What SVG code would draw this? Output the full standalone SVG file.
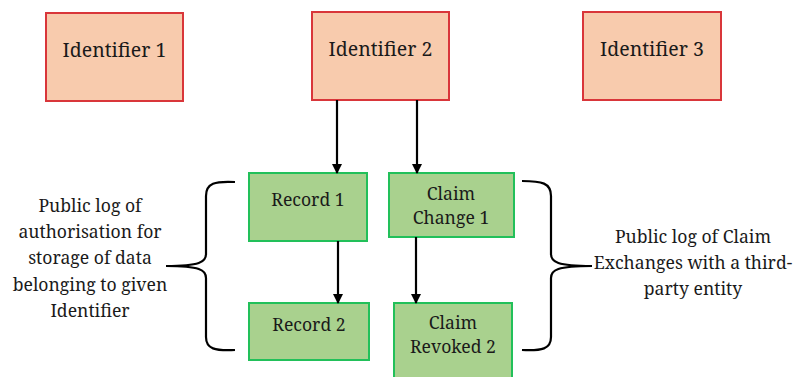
<svg xmlns="http://www.w3.org/2000/svg" width="796" height="377" viewBox="0 0 796 377">
  <defs>
    <style>
      .id rect { fill: #F8CBAD; stroke: #D9363A; stroke-width: 2; }
      .rec rect { fill: #A9D18E; stroke: #22C05A; stroke-width: 2; }
      text { fill: #1a1a1a; text-anchor: middle; font-family: "Noto Serif", "DejaVu Serif", serif; }
      .id text { font-size: 19.5px; }
      .rec text, .note text { font-size: 17.6px; }
      .conn line { stroke: #000; stroke-width: 2.2; marker-end: url(#arrow); }
      .brace { fill: none; stroke: #000; stroke-width: 2.2; }
    </style>
    <marker id="arrow" markerWidth="10" markerHeight="10" refX="9" refY="5" orient="auto" markerUnits="userSpaceOnUse">
      <path d="M0,0 L10,5 L0,10 z" fill="#000"/>
    </marker>
  </defs>

  <rect width="796" height="377" fill="#fff"/>

  <!-- identifiers -->
  <g id="identifier1" class="id">
    <rect x="46" y="13" width="137" height="88"/>
    <text x="114.5" y="57">Identifier 1</text>
  </g>
  <g id="identifier2" class="id">
    <rect x="312" y="12" width="137" height="88"/>
    <text x="380.5" y="56">Identifier 2</text>
  </g>
  <g id="identifier3" class="id">
    <rect x="583" y="12" width="138" height="88"/>
    <text x="652" y="56">Identifier 3</text>
  </g>

  <!-- log entries -->
  <g id="record1" class="rec">
    <rect x="249" y="173" width="118" height="68"/>
    <text x="308" y="206">Record 1</text>
  </g>
  <g id="record2" class="rec">
    <rect x="249" y="303" width="120" height="57"/>
    <text x="309" y="331">Record 2</text>
  </g>
  <g id="claimChange1" class="rec">
    <rect x="389" y="173" width="125" height="64"/>
    <text x="451" y="200">Claim</text>
    <text x="451" y="224">Change 1</text>
  </g>
  <g id="claimRevoked2" class="rec">
    <rect x="394" y="303" width="118" height="80"/>
    <text x="453" y="329">Claim</text>
    <text x="453" y="353">Revoked 2</text>
  </g>

  <!-- arrows -->
  <g id="connectors" class="conn">
    <line x1="337" y1="100" x2="337" y2="173"/>
    <line x1="417" y1="100" x2="417" y2="173"/>
    <line x1="338" y1="241" x2="338" y2="303"/>
    <line x1="416" y1="237" x2="416" y2="303"/>
  </g>

  <!-- braces -->
  <g id="leftBrace">
    <path class="brace" d="M235,182 C215,181 206,183 206,196 L206,254 C206,262 200,266 166,266 C200,266 206,270 206,278 L206,337 C206,349 215,351 235,350"/>
  </g>
  <g id="rightBrace">
    <path class="brace" d="M522,181 C542,181 551,183 551,196 L551,254 C551,262 557,266 592,266 C557,266 551,270 551,278 L551,337 C551,349 542,351 522,350"/>
  </g>

  <!-- annotations -->
  <g id="leftNote" class="note">
    <text x="90" y="212">Public log of</text>
    <text x="90" y="238">authorisation for</text>
    <text x="90" y="264">storage of data</text>
    <text x="90" y="291">belonging to given</text>
    <text x="90" y="317">Identifier</text>
  </g>
  <g id="rightNote" class="note">
    <text x="693" y="243">Public log of Claim</text>
    <text x="693" y="269">Exchanges with a third-</text>
    <text x="693" y="295">party entity</text>
  </g>
</svg>
